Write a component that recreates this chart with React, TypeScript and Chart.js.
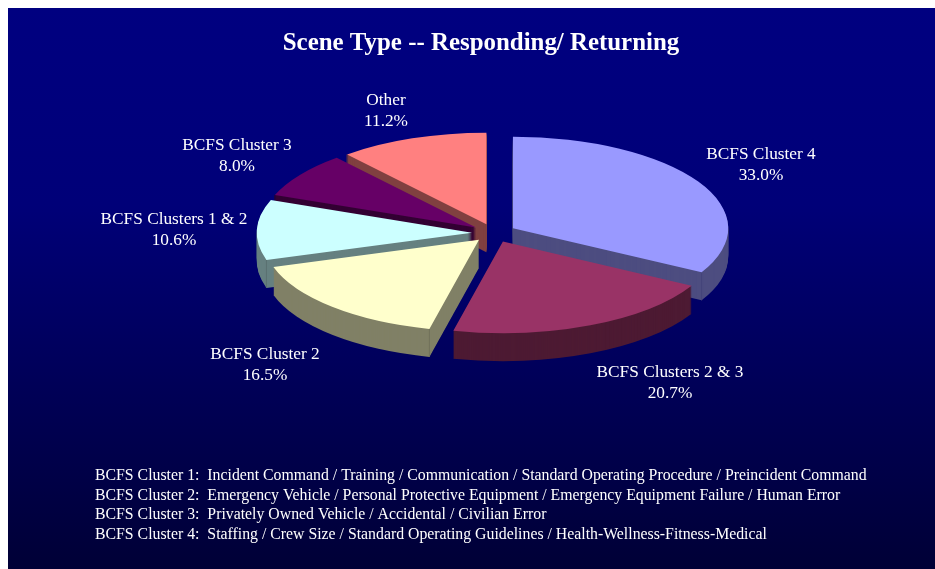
import React, { useEffect, useRef } from "react";
import { Chart, registerables } from "chart.js";

Chart.register(...registerables);

const titleText = "Scene Type -- Responding/ Returning";
const categories = ["BCFS Cluster 4", "BCFS Clusters 2 & 3", "BCFS Cluster 2", "BCFS Clusters 1 & 2", "BCFS Cluster 3", "Other"];
const shares = [33.0, 20.7, 16.5, 10.6, 8.0, 11.2];
const topColors = ["#9999FF", "#993366", "#FFFFCC", "#CCFFFF", "#660066", "#FF8080"];
const wallColors = ["#4D4D80", "#4D1A33", "#808066", "#668080", "#330033", "#804040"];
const edgeColors = ["#44447A", "#44162D", "#70705A", "#5A7070", "#2A002A", "#703838"];
const footnotes = [
  "BCFS Cluster 1:  Incident Command / Training / Communication / Standard Operating Procedure / Preincident Command",
  "BCFS Cluster 2:  Emergency Vehicle / Personal Protective Equipment / Emergency Equipment Failure / Human Error",
  "BCFS Cluster 3:  Privately Owned Vehicle / Accidental / Civilian Error",
  "BCFS Cluster 4:  Staffing / Crew Size / Standard Operating Guidelines / Health-Wellness-Fitness-Medical",
];

// Layout of the tilted pie
const FONT = '"Liberation Serif", "Times New Roman", serif';
const PIE_X = 486;
const PIE_Y = 225;
const RADIUS = 215.3;
const TILT = 0.4254;
const DEPTH = 28;
const EXPLODE = 22;
const labelOffsets = [
  [267, -68],
  [176, 150],
  [-229, 132],
  [-320, -3],
  [-257, -77],
  [-108, -122],
];
const FOOT_X = 87;
const footYs = [468, 488, 507, 527];

const pie3d = {
  id: "pie3d",
  beforeDraw(chart: any) {
    const { ctx, width, height } = chart;
    const g = ctx.createLinearGradient(0, 0, 0, height);
    g.addColorStop(0, "#000080");
    g.addColorStop(0.35, "#000078");
    g.addColorStop(1, "#000036");
    ctx.save();
    ctx.fillStyle = g;
    ctx.fillRect(0, 0, width, height);
    ctx.restore();
  },
  beforeDatasetsDraw(chart: any) {
    const { ctx } = chart;
    const arcs = chart.getDatasetMeta(0).data as any[];
    const mid = (a: any) => (a.startAngle + a.endAngle) / 2;
    const order = arcs
      .map((_, i) => i)
      .sort((p, q) => Math.sin(mid(arcs[p])) - Math.sin(mid(arcs[q])));

    const place = (a: any, dy: number) => {
      ctx.translate(PIE_X + Math.cos(mid(a)) * EXPLODE, PIE_Y + dy + Math.sin(mid(a)) * EXPLODE * TILT);
      ctx.scale(1, TILT);
      ctx.translate(-a.x, -a.y);
    };

    order.forEach((i) => {
      const a = arcs[i];
      for (let d = DEPTH; d >= 1; d--) {
        ctx.save();
        place(a, d);
        ctx.beginPath();
        ctx.moveTo(a.x, a.y);
        ctx.arc(a.x, a.y, a.outerRadius, a.startAngle, a.endAngle);
        ctx.closePath();
        ctx.fillStyle = wallColors[i];
        ctx.fill();
        ctx.restore();
      }
      // vertical edge where the curved wall meets a visible cut face
      const corner: number[] = [];
      if (Math.sin(a.endAngle) > 0 && Math.cos(a.endAngle) > 0) corner.push(a.endAngle);
      if (Math.cos(a.startAngle) < 0) corner.push(a.startAngle);
      corner.forEach((ang) => {
        const x = PIE_X + Math.cos(mid(a)) * EXPLODE + Math.cos(ang) * a.outerRadius;
        const y = PIE_Y + Math.sin(mid(a)) * EXPLODE * TILT + Math.sin(ang) * a.outerRadius * TILT;
        ctx.save();
        ctx.strokeStyle = edgeColors[i];
        ctx.lineWidth = 1;
        ctx.beginPath();
        ctx.moveTo(x, y);
        ctx.lineTo(x, y + DEPTH);
        ctx.stroke();
        ctx.restore();
      });
      ctx.save();
      place(a, 0);
      a.draw(ctx);
      ctx.restore();
    });

    ctx.save();
    ctx.fillStyle = "#FFFFFF";
    ctx.font = `17.3px ${FONT}`;
    ctx.textAlign = "center";
    ctx.textBaseline = "middle";
    categories.forEach((name, i) => {
      const [ox, oy] = labelOffsets[i];
      ctx.fillText(name, PIE_X + ox, PIE_Y + oy - 10.5);
      ctx.fillText(`${shares[i].toFixed(1)}%`, PIE_X + ox, PIE_Y + oy + 10.5);
    });
    ctx.font = `15.8px ${FONT}`;
    ctx.textAlign = "left";
    footnotes.forEach((line, i) => ctx.fillText(line, FOOT_X, footYs[i]));
    ctx.restore();
    return false;
  },
};

export default function App() {
  const ref = useRef<HTMLCanvasElement>(null);
  useEffect(() => {
    const chart = new Chart(ref.current as HTMLCanvasElement, {
      type: "pie",
      data: {
        labels: categories,
        datasets: [{ data: shares, backgroundColor: topColors, borderWidth: 0 }],
      },
      options: {
        responsive: false,
        animation: false,
        radius: RADIUS,
        layout: { padding: { left: 19, right: 0, top: 0, bottom: 180 } },
        plugins: {
          legend: { display: false },
          tooltip: { enabled: false },
          title: {
            display: true,
            text: titleText,
            color: "#FFFFFF",
            font: { family: FONT, size: 24.9, weight: "bold" },
            padding: { top: 21, bottom: 10 },
          },
        },
      } as any,
      plugins: [pie3d as any],
    });
    return () => chart.destroy();
  }, []);
  return (
    <div style={{ position: "absolute", left: 8, top: 8, width: 927, height: 561 }}>
      <canvas ref={ref} width={927} height={561} style={{ display: "block" }} />
    </div>
  );
}
